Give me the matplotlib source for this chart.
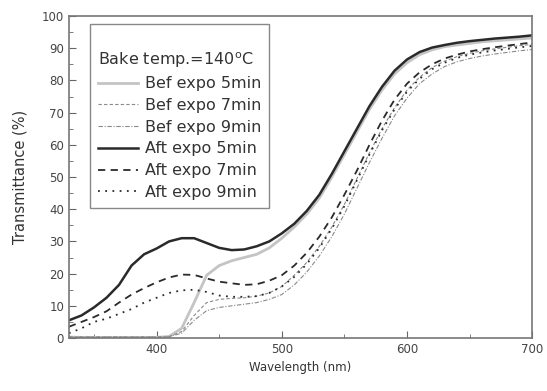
import matplotlib
matplotlib.use("Agg")
import matplotlib.pyplot as plt
from matplotlib.ticker import MultipleLocator

# wavelength grid (nm)
wavelength = [330, 340, 350, 360, 370, 380, 390, 400, 410, 420,
              430, 440, 450, 460, 470, 480, 490, 500, 510, 520,
              530, 540, 550, 560, 570, 580, 590, 600, 610, 620,
              630, 640, 650, 660, 670, 680, 690, 700]

bef_5min = [0.3, 0.2, 0.2, 0.2, 0.2, 0.2, 0.2, 0.2, 0.5, 3.0,
            11.0, 19.5, 22.5, 24.0, 25.0, 26.0, 28.0, 31.0, 34.5, 38.5,
            43.5, 50.0, 57.0, 64.0, 71.0, 77.0, 82.0, 85.5, 88.0, 89.5,
            90.5, 91.0, 91.5, 92.0, 92.3, 92.6, 92.9, 93.2]
bef_7min = [0.3, 0.3, 0.3, 0.3, 0.3, 0.3, 0.3, 0.3, 0.4, 2.0,
            7.0, 11.0, 12.0, 12.3, 12.5, 13.0, 14.0, 16.0, 19.5, 23.5,
            28.5, 34.5, 41.5, 49.5, 57.5, 65.0, 71.5, 77.0, 81.0, 84.0,
            86.0, 87.4, 88.4, 89.2, 89.8, 90.3, 90.8, 91.2]
bef_9min = [0.3, 0.3, 0.3, 0.3, 0.3, 0.3, 0.3, 0.3, 0.4, 1.5,
            5.5, 8.5, 9.5, 10.0, 10.5, 11.0, 12.0, 13.5, 16.5, 20.5,
            25.5, 31.5, 38.5, 46.5, 54.5, 62.0, 69.0, 74.5, 79.0, 82.0,
            84.3, 85.8, 86.8, 87.6, 88.2, 88.7, 89.2, 89.6]
aft_5min = [5.5, 7.0, 9.5, 12.5, 16.5, 22.5, 26.0, 27.8, 30.0, 31.0,
            31.0, 29.5, 28.0, 27.3, 27.5, 28.5, 30.0, 32.5, 35.5, 39.5,
            44.5, 51.0, 58.0, 65.0, 72.0, 78.0, 83.0, 86.5, 88.8, 90.2,
            91.0, 91.7, 92.2, 92.6, 93.0, 93.3, 93.6, 94.0]
aft_7min = [3.5, 5.0, 6.5, 8.3, 11.0, 13.5, 15.5, 17.3, 18.8, 19.7,
            19.6, 18.5, 17.5, 17.0, 16.5, 16.7, 17.8, 19.5, 22.5, 26.5,
            31.5, 37.5, 44.5, 52.0, 60.0, 67.5, 74.0, 79.0, 82.5, 85.0,
            86.8, 88.0, 89.0, 89.7, 90.3, 90.8, 91.3, 91.8]
aft_9min = [1.5, 3.0, 5.0, 6.0, 7.5, 9.0, 11.0, 12.5, 14.0, 14.8,
            15.0, 14.3, 13.2, 12.8, 12.8, 13.0, 14.0, 16.0, 19.0, 23.0,
            28.0, 34.0, 41.0, 49.0, 57.0, 64.5, 71.0, 76.5, 80.5, 83.5,
            85.5, 87.0, 88.0, 88.7, 89.3, 89.8, 90.3, 90.7]

labels = ["Bef expo 5min", "Bef expo 7min", "Bef expo 9min",
          "Aft expo 5min", "Aft expo 7min", "Aft expo 9min"]

fig = plt.figure(figsize=(5.47, 3.91), dpi=100)
ax = fig.add_axes([0.126, 0.1355, 0.847, 0.8235])

dark = "#2a2a2a"
ax.plot(wavelength, bef_5min, color="#c4c4c4", lw=2.0, label=labels[0])
ax.plot(wavelength, bef_7min, color="#8a8a8a", lw=0.8, ls=(0, (3, 2)), label=labels[1])
ax.plot(wavelength, bef_9min, color="#8a8a8a", lw=0.8, ls=(0, (4, 1.5, 1, 1.5)), label=labels[2])
ax.plot(wavelength, aft_5min, color=dark, lw=1.8, label=labels[3])
ax.plot(wavelength, aft_7min, color=dark, lw=1.3, ls=(0, (4, 3)), label=labels[4])
ax.plot(wavelength, aft_9min, color=dark, lw=1.3, ls=(0, (1, 3)), label=labels[5])

ax.set_xlim(330, 700)
ax.set_ylim(0, 100)
ax.xaxis.set_major_locator(MultipleLocator(100))
ax.xaxis.set_minor_locator(MultipleLocator(50))
ax.yaxis.set_major_locator(MultipleLocator(10))
ax.yaxis.set_minor_locator(MultipleLocator(5))
ax.tick_params(which="both", direction="in", colors="#666666", labelcolor="#444444",
               labelsize=8.5, top=False, right=False)
ax.tick_params(which="major", length=5)
ax.tick_params(which="minor", length=3)
for s in ax.spines.values():
    s.set_color("#777777")
    s.set_linewidth(1.2)

ax.set_xlabel("Wavelength (nm)", fontsize=8.5, color="#333333", labelpad=4)
ax.set_ylabel("Transmittance (%)", fontsize=10.5, color="#333333", labelpad=10)

leg = ax.legend(loc="upper left", bbox_to_anchor=(0.045, 0.975), fontsize=11.5,
                title="\nBake temp.=140$^{\\rm o}$C", title_fontsize=11.5, alignment="left",
                frameon=True, fancybox=False, edgecolor="#888888", framealpha=1,
                handlelength=2.5, handletextpad=0.45, labelspacing=0.42,
                borderpad=0.5, borderaxespad=0)
leg.get_frame().set_linewidth(1.0)
for t in leg.get_texts():
    t.set_color("#333333")
leg.get_title().set_color("#333333")

fig.savefig("out.png", dpi=100)
